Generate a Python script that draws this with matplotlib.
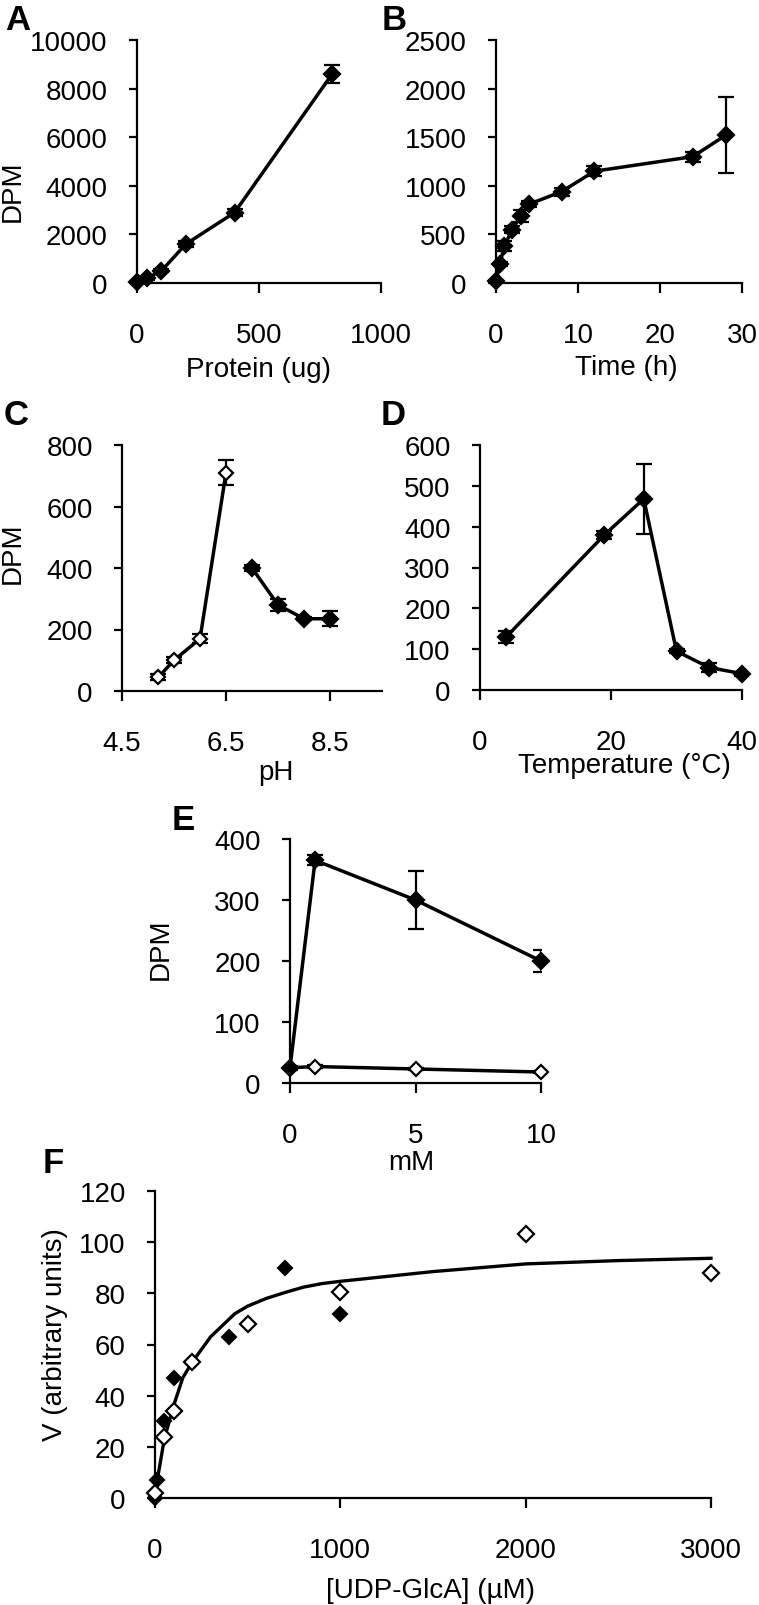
import matplotlib
matplotlib.use('Agg')
import matplotlib.pyplot as plt

plt.rcParams['font.family'] = ['Liberation Sans', 'DejaVu Sans']

# ---------------- data ----------------
# A: protein dependence
a_x = [0, 40, 100, 200, 400, 800]
a_y = [50, 200, 500, 1600, 2900, 8600]
a_err = [20, 60, 60, 120, 150, 380]

# B: time course
b_x = [0, 0.5, 1, 2, 3, 4, 8, 12, 24, 28]
b_y = [20, 200, 380, 550, 690, 810, 940, 1150, 1300, 1520]
b_err = [5, 20, 50, 40, 60, 30, 40, 50, 50, 390]

# C: pH (two buffers)
c1_x = [5.2, 5.5, 6.0, 6.5]
c1_y = [45, 100, 170, 710]
c1_err = [10, 10, 15, 40]
c2_x = [7.0, 7.5, 8.0, 8.5]
c2_y = [400, 280, 235, 235]
c2_err = [10, 20, 5, 25]

# D: temperature
d_x = [4, 19, 25, 30, 35, 40]
d_y = [130, 380, 468, 95, 55, 40]
d_err = [15, 10, 85, 5, 10, 5]

# E: metal concentration (mM)
e1_x = [0, 1, 5, 10]
e1_y = [25, 365, 300, 200]
e1_err = [3, 8, 48, 18]
e2_x = [0, 1, 5, 10]
e2_y = [25, 27, 23, 18]
e2_err = [2, 2, 2, 2]

# F: kinetics
f1_x = [0, 10, 50, 100, 400, 700, 1000]
f1_y = [0, 7, 30, 47, 63, 90, 72]
f2_x = [0, 50, 100, 200, 500, 1000, 2000, 3000]
f2_y = [2, 24, 34, 53, 68, 80.5, 103, 88]
curve_x = [0, 10, 50, 100, 150, 200, 300, 430, 500, 600, 700, 800, 900, 1000, 1500, 2000, 2500, 3000]
curve_y = [0, 6, 23, 36, 47, 53, 63, 72, 75, 78, 80.3, 82.4, 83.8, 84.7, 88.5, 91.5, 92.8, 93.7]

# ---------------- layout ----------------
W, H = 759, 1606
fig = plt.figure(figsize=(W / 100, H / 100), dpi=100)


def make_ax(xl, xr, yt, yb):
    ax = fig.add_axes([xl / W, 1 - yb / H, (xr - xl) / W, (yb - yt) / H])
    for s in ['top', 'right']:
        ax.spines[s].set_visible(False)
    for s in ['left', 'bottom']:
        ax.spines[s].set_linewidth(1.6)
    ax.tick_params(axis='both', labelsize=20, width=1.6, direction='out', colors='black')
    ax.tick_params(axis='y', length=6, pad=15)
    ax.tick_params(axis='x', length=7, pad=21)
    return ax


def series(ax, x, y, err, filled, ms=8.2):
    if err is not None:
        ax.errorbar(x, y, yerr=err, fmt='none', ecolor='black', elinewidth=1.6,
                    capsize=5.5, capthick=1.6, zorder=2)
    ax.plot(x, y, '-', color='black', lw=2.5, marker='D', ms=ms,
            mfc='black' if filled else 'white', mec='black', mew=1.6,
            clip_on=False, zorder=3)


def letter(x, y, s):
    fig.text(x / W, 1 - y / H, s, fontsize=25, fontweight='bold', ha='center', va='center')


def ylab(ax, s, x, y):
    ax.set_ylabel(s, fontsize=20, va='center', ha='center')
    ax.yaxis.set_label_coords(x, y)


def xlab(ax, s, x, y):
    ax.set_xlabel(s, fontsize=20, va='center', ha='center')
    ax.xaxis.set_label_coords(x, y)


# A
axA = make_ax(137, 381, 41, 284)
series(axA, a_x, a_y, a_err, True)
axA.set_xlim(0, 1000)
axA.set_ylim(0, 10000)
axA.set_xticks([0, 500, 1000])
axA.set_yticks(range(0, 10001, 2000))
ylab(axA, 'DPM', -0.508, 0.383)
xlab(axA, 'Protein (ug)', 0.5, -0.354)
letter(18, 20, 'A')

# B
axB = make_ax(496, 742, 41, 284)
series(axB, b_x, b_y, b_err, True)
axB.set_xlim(0, 30)
axB.set_ylim(0, 2500)
axB.set_xticks([0, 10, 20, 30])
axB.set_yticks(range(0, 2501, 500))
xlab(axB, 'Time (h)', 0.528, -0.346)
letter(394, 20, 'B')

# C
axC = make_ax(122, 382, 446, 692)
series(axC, c1_x, c1_y, c1_err, False, ms=7.6)
series(axC, c2_x, c2_y, c2_err, True)
axC.set_xlim(4.5, 9.5)
axC.set_ylim(0, 800)
axC.set_xticks([4.5, 6.5, 8.5])
axC.set_xticklabels(['4.5', '6.5', '8.5'])
axC.set_yticks(range(0, 801, 200))
ylab(axC, 'DPM', -0.419, 0.565)
xlab(axC, 'pH', 0.592, -0.329)
letter(16, 416, 'C')

# D
axD = make_ax(480, 742, 446, 691)
series(axD, d_x, d_y, d_err, True)
axD.set_xlim(0, 40)
axD.set_ylim(0, 600)
axD.set_xticks([0, 20, 40])
axD.set_yticks(range(0, 601, 100))
xlab(axD, 'Temperature (°C)', 0.553, -0.306)
letter(393, 416, 'D')

# E
axE = make_ax(290, 541, 840, 1084)
series(axE, e2_x, e2_y, e2_err, False, ms=7.6)
series(axE, e1_x, e1_y, e1_err, True)
axE.set_xlim(0, 10)
axE.set_ylim(0, 400)
axE.set_xticks([0, 5, 10])
axE.set_yticks(range(0, 401, 100))
ylab(axE, 'DPM', -0.514, 0.553)
xlab(axE, 'mM', 0.482, -0.324)
letter(183, 820, 'E')

# F
axF = make_ax(155, 711, 1192, 1499)
axF.plot(curve_x, curve_y, '-', color='black', lw=2.4, zorder=2, clip_on=False)
axF.plot(f1_x, f1_y, linestyle='none', marker='D', ms=7.6, mfc='black', mec='black',
         mew=1.5, clip_on=False, zorder=3)
axF.plot(f2_x, f2_y, linestyle='none', marker='D', ms=8.6, mfc='white', mec='black',
         mew=1.6, clip_on=False, zorder=4)
axF.set_xlim(0, 3000)
axF.set_ylim(0, 120)
axF.set_xticks([0, 1000, 2000, 3000])
axF.set_yticks(range(0, 121, 20))
ylab(axF, 'V (arbitrary units)', -0.18, 0.537)
xlab(axF, '[UDP-GlcA] (µM)', 0.495, -0.30)
letter(53, 1164, 'F')

fig.savefig('out.png', dpi=100)
